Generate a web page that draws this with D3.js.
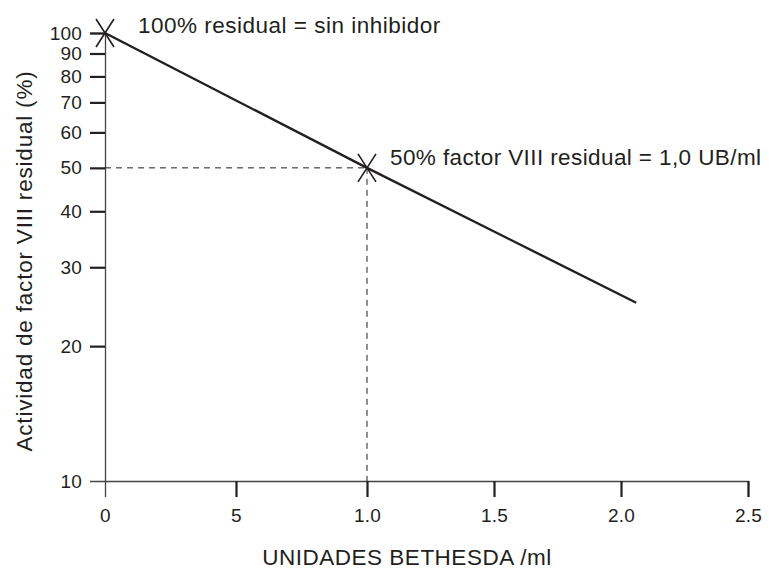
<!DOCTYPE html>
<html>
<head>
<meta charset="utf-8">
<script src="https://cdn.jsdelivr.net/npm/d3@7"></script>
<style>
  body { margin: 0; background: #fff; }
  svg text { font-family: "Liberation Sans", Arial, Helvetica, sans-serif; fill: #231f20; }
</style>
</head>
<body>
<script>
// valores
var lineX = [0, 1, 2.06]
var lineY = [100, 50, 25]
var markX = [0, 1]
var markY = [100, 50]
var xTicks = [0, 0.5, 1, 1.5, 2, 2.5]
var xTickLabels = ['0', '5', '1.0', '1.5', '2.0', '2.5']
var yTicks = [10, 20, 30, 40, 50, 60, 70, 80, 90, 100]
var notes = ['100% residual = sin inhibidor', '50% factor VIII residual = 1,0 UB/ml']
var xTitle = 'UNIDADES BETHESDA /ml'
var yTitle = 'Actividad de factor VIII residual (%)'

var svg = d3.select('body').append('svg')
    .attr('width', 769)
    .attr('height', 569)

var x = d3.scaleLinear().domain([0, 1, 2.5]).range([105, 367, 748])
var y = d3.scaleLog().domain([10, 100]).range([481, 33])

// eje y
var yAxis = svg.append('g')
    .attr('transform', 'translate(105,0)')
    .call(d3.axisLeft(y).tickValues(yTicks).tickFormat(d3.format('d')).tickSize(15).tickPadding(8))
yAxis.select('.domain').attr('stroke', '#444').attr('stroke-width', 1.3)
yAxis.selectAll('.tick line').attr('stroke', '#231f20').attr('stroke-width', 2.2)
yAxis.selectAll('.tick').filter(function (d) { return d === 10 }).select('line').remove()
yAxis.selectAll('.tick text')
    .attr('font-size', 19).style('letter-spacing', '0.2px').attr('fill', '#231f20')

// eje x
var xAxis = svg.append('g')
    .attr('transform', 'translate(0,481)')
    .call(d3.axisBottom(x).tickValues(xTicks)
        .tickFormat(function (d, i) { return xTickLabels[i] })
        .tickSize(16).tickPadding(12))
xAxis.select('.domain').attr('stroke', '#444').attr('stroke-width', 1.3)
xAxis.selectAll('.tick line').attr('stroke', '#231f20').attr('stroke-width', 2.2)
xAxis.selectAll('.tick').filter(function (d) { return d === 0 }).select('line').remove()
xAxis.selectAll('.tick text')
    .attr('font-size', 19).style('letter-spacing', '0.2px').attr('fill', '#231f20')

// lineas discontinuas al 50%
svg.append('line')
    .attr('x1', x(0)).attr('x2', x(markX[1]))
    .attr('y1', y(markY[1])).attr('y2', y(markY[1]))
    .attr('stroke', '#231f20').attr('stroke-width', 1).attr('stroke-dasharray', '6,5')
svg.append('line')
    .attr('x1', x(markX[1])).attr('x2', x(markX[1]))
    .attr('y1', y(markY[1])).attr('y2', y(10))
    .attr('stroke', '#231f20').attr('stroke-width', 1).attr('stroke-dasharray', '6,5')

// recta
var pts = lineX.map(function (d, i) { return [d, lineY[i]] })
svg.append('path')
    .datum(pts)
    .attr('fill', 'none')
    .attr('stroke', '#231f20')
    .attr('stroke-width', 2.4)
    .attr('d', d3.line().x(function (d) { return x(d[0]) }).y(function (d) { return y(d[1]) }))

// marcas X
var marks = markX.map(function (d, i) { return [d, markY[i]] })
var mg = svg.selectAll('.mark').data(marks).enter().append('g')
    .attr('class', 'mark')
    .attr('transform', function (d) { return 'translate(' + x(d[0]) + ',' + y(d[1]) + ')' })
mg.append('path')
    .attr('d', 'M-9,-14L9,14M9,-14L-9,14')
    .attr('stroke', '#231f20').attr('stroke-width', 1.6).attr('fill', 'none')

// anotaciones
svg.append('text').attr('x', 138).attr('y', 33)
    .attr('font-size', 22.5).style('letter-spacing', '0.5px').text(notes[0])
svg.append('text').attr('x', 390).attr('y', 165)
    .attr('font-size', 22.5).style('letter-spacing', '0.4px').text(notes[1])

// titulos
svg.append('text').attr('x', 407).attr('y', 565)
    .attr('text-anchor', 'middle')
    .attr('font-size', 22.5).style('letter-spacing', '0.5px').text(xTitle)
svg.append('text')
    .attr('transform', 'translate(32,261) rotate(-90)')
    .attr('text-anchor', 'middle')
    .attr('font-size', 22.5).style('letter-spacing', '0.8px').text(yTitle)
</script>
</body>
</html>
